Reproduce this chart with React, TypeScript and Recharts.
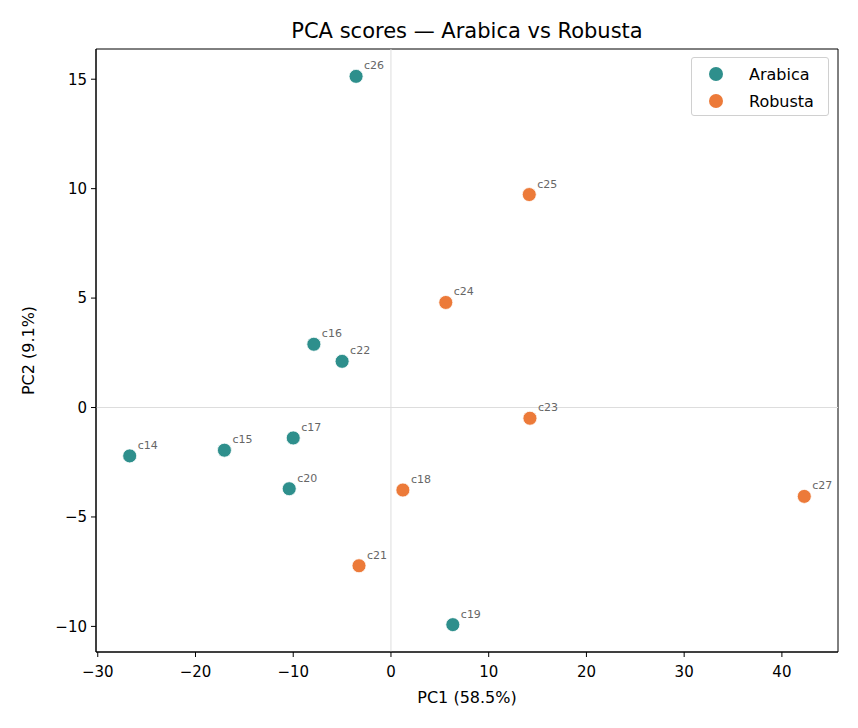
import {
  ScatterChart,
  Scatter,
  XAxis,
  YAxis,
  ReferenceLine,
  ReferenceArea,
} from 'recharts'

const arabicaNames = ['c14', 'c15', 'c16', 'c17', 'c19', 'c20', 'c22', 'c26']
const arabicaPC1 = [-26.73, -17.04, -7.89, -10.0, 6.33, -10.41, -5.0, -3.57]
const arabicaPC2 = [-2.21, -1.95, 2.89, -1.39, -9.92, -3.71, 2.11, 15.13]

const robustaNames = ['c18', 'c21', 'c23', 'c24', 'c25', 'c27']
const robustaPC1 = [1.22, -3.27, 14.22, 5.61, 14.15, 42.29]
const robustaPC2 = [-3.77, -7.23, -0.49, 4.8, 9.73, -4.06]

const xTicks = [-30, -20, -10, 0, 10, 20, 30, 40]
const yTicks = [-10, -5, 0, 5, 10, 15]
const xDomain = [-30.18, 45.74]
const yDomain = [-11.17, 16.38]

const TEAL = '#2e8f8c'
const ORANGE = '#ec7a39'
const FONT = 'DejaVu Sans, sans-serif'

const toRows = (names: string[], xs: number[], ys: number[]) =>
  names.map((name, i) => ({ name, x: xs[i], y: ys[i] }))

const arabica = toRows(arabicaNames, arabicaPC1, arabicaPC2)
const robusta = toRows(robustaNames, robustaPC1, robustaPC2)

const fmt = (v: number) => (v < 0 ? '\u2212' + Math.abs(v) : String(v))

const dot = (color: string) => (props: any) => {
  const { cx, cy, payload } = props
  return (
    <g>
      <circle cx={cx} cy={cy} r={7} fill={color} stroke="#fff" strokeWidth={0.8} />
      <text x={cx + 8} y={cy - 7} fontSize={11} fill="#666" fontFamily={FONT}>
        {payload.name}
      </text>
    </g>
  )
}

export default function App() {
  return (
    <div style={{ position: 'absolute', left: 0, top: 0, width: 858, height: 728, background: '#fff' }}>
      <div
        style={{
          position: 'absolute',
          left: 96,
          width: 742,
          top: 19,
          textAlign: 'center',
          fontFamily: FONT,
          fontSize: 21,
          color: '#000',
        }}
      >
        PCA scores — Arabica vs Robusta
      </div>
      <ScatterChart
        width={858}
        height={728}
        margin={{ top: 49, right: 20, bottom: 44, left: 19 }}
      >
        <XAxis
          type="number"
          dataKey="x"
          domain={xDomain}
          ticks={xTicks}
          tickFormatter={fmt}
          allowDataOverflow
          height={32}
          tickSize={5}
          tickMargin={9}
          stroke="#000"
          tick={{ fill: '#000', fontSize: 15, fontFamily: FONT }}
          label={{ value: 'PC1 (58.5%)', position: 'bottom', offset: 8, fill: '#000', fontSize: 16, fontFamily: FONT }}
        />
        <YAxis
          type="number"
          dataKey="y"
          domain={yDomain}
          ticks={yTicks}
          tickFormatter={fmt}
          allowDataOverflow
          width={77}
          tickSize={5}
          tickMargin={4}
          stroke="#000"
          tick={{ fill: '#000', fontSize: 15, fontFamily: FONT }}
          label={{
            value: 'PC2 (9.1%)',
            angle: -90,
            position: 'insideLeft',
            offset: 9,
            fill: '#000',
            fontSize: 16,
            fontFamily: FONT,
            style: { textAnchor: 'middle' },
          }}
        />
        <ReferenceLine x={0} stroke="#dddddd" strokeWidth={1} />
        <ReferenceLine y={0} stroke="#dddddd" strokeWidth={1} />
        <ReferenceArea
          x1={xDomain[0]}
          x2={xDomain[1]}
          y1={yDomain[0]}
          y2={yDomain[1]}
          fill="none"
          stroke="#000"
          strokeWidth={1}
          fillOpacity={0}
        />
        <Scatter name="Arabica" data={arabica} fill={TEAL} shape={dot(TEAL)} isAnimationActive={false} />
        <Scatter name="Robusta" data={robusta} fill={ORANGE} shape={dot(ORANGE)} isAnimationActive={false} />
      </ScatterChart>
      <div
        style={{
          position: 'absolute',
          left: 691,
          top: 57,
          width: 136,
          height: 57,
          border: '1px solid #d0d0d0',
          borderRadius: 3,
          background: '#fff',
          fontFamily: FONT,
          fontSize: 16,
        }}
      >
        {[
          { label: 'Arabica', color: TEAL },
          { label: 'Robusta', color: ORANGE },
        ].map((item, i) => (
          <div key={item.label} style={{ position: 'absolute', left: 0, top: 5 + i * 27, height: 22, display: 'flex', alignItems: 'center' }}>
            <svg width={40} height={22} style={{ display: 'block' }}>
              <circle cx={24} cy={11} r={7} fill={item.color} />
            </svg>
            <span style={{ marginLeft: 17 }}>{item.label}</span>
          </div>
        ))}
      </div>
    </div>
  )
}
